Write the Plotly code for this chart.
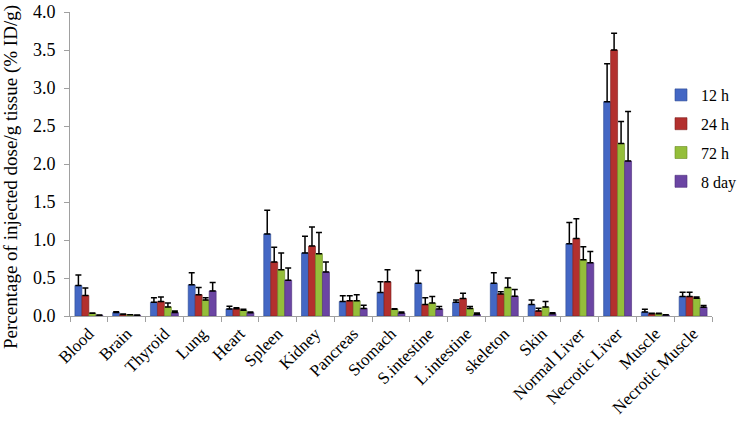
import plotly.graph_objects as go

categories = ["Blood", "Brain", "Thyroid", "Lung", "Heart", "Spleen", "Kidney", "Pancreas",
              "Stomach", "S.intestine", "L.intestine", "skeleton", "Skin", "Normal Liver",
              "Necrotic Liver", "Muscle", "Necrotic Muscle"]

series_names = ["12 h", "24 h", "72 h", "8 day"]

vals_12h = [0.40, 0.045, 0.18, 0.41, 0.093, 1.08, 0.83, 0.19, 0.31, 0.43, 0.18, 0.43, 0.15, 0.95, 2.82, 0.053, 0.256]
vals_24h = [0.27, 0.02, 0.19, 0.28, 0.097, 0.71, 0.92, 0.20, 0.45, 0.15, 0.23, 0.29, 0.066, 1.02, 3.50, 0.03, 0.256]
vals_72h = [0.035, 0.015, 0.12, 0.21, 0.075, 0.61, 0.82, 0.20, 0.09, 0.17, 0.10, 0.375, 0.12, 0.74, 2.27, 0.03, 0.234]
vals_8d = [0.01, 0.01, 0.045, 0.33, 0.044, 0.47, 0.58, 0.10, 0.04, 0.093, 0.02, 0.26, 0.03, 0.70, 2.04, 0.013, 0.115]

# upper error (SD) values
err_12h = [0.14, 0.01, 0.06, 0.16, 0.035, 0.31, 0.22, 0.075, 0.14, 0.17, 0.03, 0.14, 0.06, 0.28, 0.50, 0.035, 0.055]
err_24h = [0.10, 0.005, 0.06, 0.095, 0.01, 0.195, 0.25, 0.065, 0.16, 0.09, 0.07, 0.03, 0.035, 0.26, 0.22, 0.005, 0.055]
err_72h = [0.005, 0.003, 0.05, 0.03, 0.013, 0.22, 0.28, 0.08, 0.007, 0.086, 0.024, 0.125, 0.07, 0.17, 0.29, 0.005, 0.016]
err_8d = [0.003, 0.002, 0.02, 0.11, 0.01, 0.16, 0.13, 0.04, 0.013, 0.031, 0.02, 0.09, 0.014, 0.15, 0.65, 0.003, 0.022]

colors = ["#4467C4", "#B3302E", "#94BE3A", "#6B45A3"]
edge_colors = ["#2C4A92", "#7E1F1D", "#6A8A22", "#4A2C78"]

values = [vals_12h, vals_24h, vals_72h, vals_8d]
errors = [err_12h, err_24h, err_72h, err_8d]

FONT = "Liberation Serif"

fig = go.Figure()
for name, v, e, c, ec in zip(series_names, values, errors, colors, edge_colors):
    fig.add_trace(go.Bar(
        name=name, x=categories, y=v,
        marker=dict(color=c, line=dict(color=ec, width=0.6)),
        legendgroup=name,
        error_y=dict(type="data", array=e, arrayminus=[0] * len(e), symmetric=False,
                     color="black", thickness=1.5, width=3),
    ))

W, H = 750, 426
fig.update_layout(
    width=W, height=H,
    margin=dict(l=70, r=38, t=12, b=110, autoexpand=False),
    plot_bgcolor="white", paper_bgcolor="white",
    barmode="group", bargap=0.26, bargroupgap=0,
    font=dict(family=FONT, size=17, color="black"),
    showlegend=True,
    legend=dict(xref="container", yref="container", x=661 / W, y=1 - 78 / H,
                xanchor="left", yanchor="top",
                font=dict(family=FONT, size=16, color="black"),
                bgcolor="rgba(0,0,0,0)", tracegroupgap=5,
                itemwidth=30),
)

fig.update_xaxes(
    type="category", showline=True, linecolor="#A0A0A0", linewidth=1,
    ticks="outside", tickson="boundaries", ticklen=5, tickcolor="#A0A0A0",
    tickangle=-45, tickfont=dict(family=FONT, size=17, color="black"),
    showgrid=False, automargin=False,
)
fig.update_yaxes(
    range=[0, 4.0], tick0=0, dtick=0.5, tickformat=".1f",
    showline=True, linecolor="#A0A0A0", linewidth=1,
    ticks="outside", ticklen=5, tickcolor="#A0A0A0",
    tickfont=dict(family=FONT, size=18, color="black"),
    ticklabelstandoff=5,
    showgrid=False, zeroline=False, automargin=False,
)

fig.add_annotation(
    text="Percentage of injected dose/g tissue (% ID/g)",
    xref="paper", yref="paper", x=0, y=(316 - 177) / 304,
    xanchor="center", yanchor="middle", xshift=-59,
    textangle=-90, showarrow=False,
    font=dict(family=FONT, size=19, color="black"),
)

fig.write_html("out.html", config={"displayModeBar": False},
               post_script="document.body.style.margin='0';")
